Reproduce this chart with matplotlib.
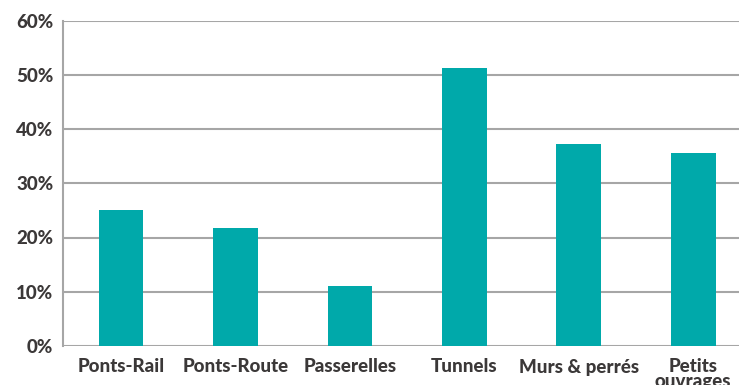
import matplotlib.pyplot as plt

categories = ['Ponts-Rail', 'Ponts-Route', 'Passerelles', 'Tunnels', 'Murs & perrés', 'Petits\nouvrages']
values = [25.1, 21.8, 11.1, 51.2, 37.2, 35.6]
yticks = [0, 10, 20, 30, 40, 50, 60]
ylabels = ['0%', '10%', '20%', '30%', '40%', '50%', '60%']

plt.rcParams['font.family'] = ['Lato', 'DejaVu Sans']
text_color = '#3b3838'
grid_color = '#a6a6a6'

fig = plt.figure(figsize=(7.39, 3.85), dpi=100)
ax = fig.add_axes([63 / 739, 1 - 346 / 385, 1 - 63 / 739, (346 - 20.5) / 385])

x = list(range(len(categories)))
ax.bar(x, values, width=0.39, color='#00a9aa', zorder=3)

ax.set_ylim(0, 60)
ax.set_xlim(-0.507, 5.4)
ax.set_yticks(yticks)
ax.set_yticklabels(ylabels)
ax.set_xticks(x)
ax.set_xticklabels(categories, linespacing=0.8)

for t in ax.get_yticklabels() + ax.get_xticklabels():
    t.set_fontweight(900)
    t.set_fontsize(13.5)
    t.set_color(text_color)

ax.tick_params(axis='both', length=0)
ax.tick_params(axis='y', pad=7)
ax.tick_params(axis='x', pad=9)

ax.grid(axis='y', color=grid_color, linewidth=1.5, zorder=0)
ax.set_axisbelow(True)
for side in ['top', 'right', 'bottom']:
    ax.spines[side].set_visible(False)
ax.spines['left'].set_color(grid_color)
ax.spines['left'].set_linewidth(1.5)

fig.savefig('out.png', dpi=100)
